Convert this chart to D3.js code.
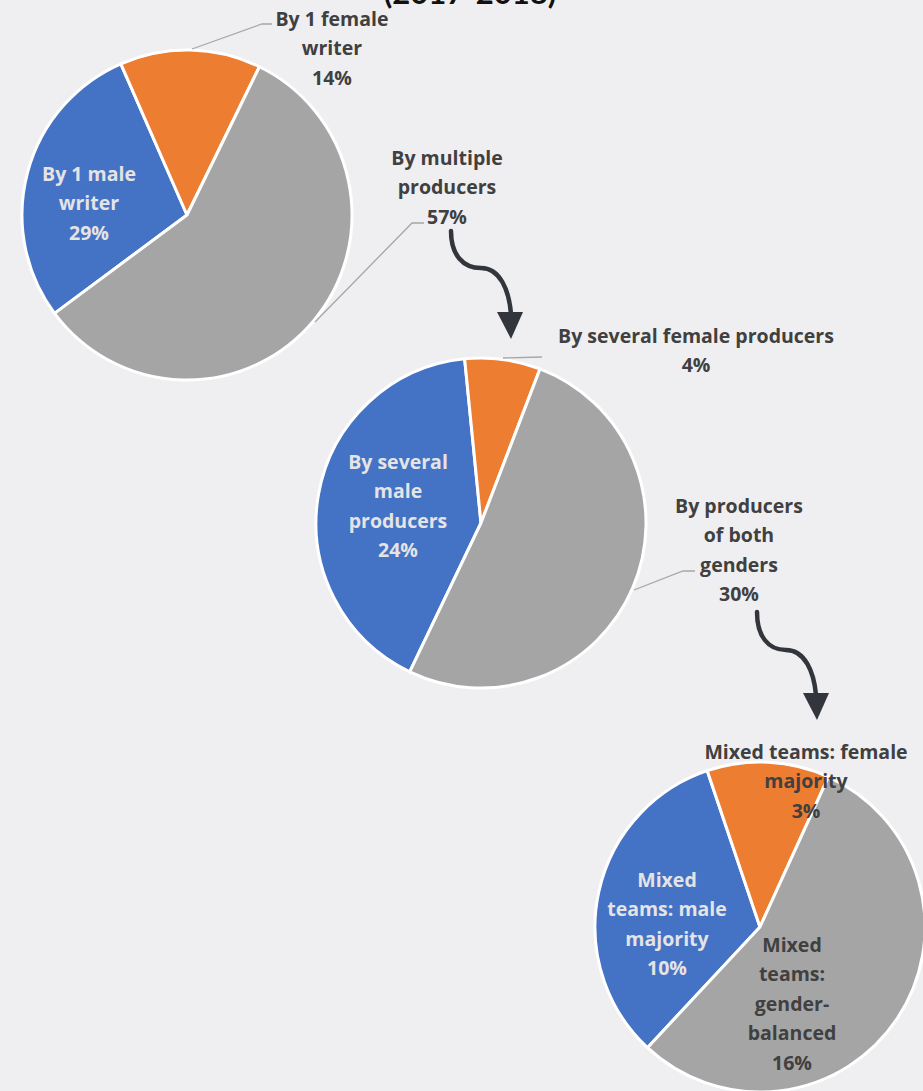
<!DOCTYPE html>
<html><head><meta charset="utf-8">
<script src="https://cdn.jsdelivr.net/npm/d3@7"></script>
<style>html,body{margin:0;padding:0;background:#EFEFF1;} svg{display:block}</style>
</head><body>
<svg id="c" width="923" height="1091"></svg>
<script>
// ---- data ----
const sliceColors = ["#4472C4", "#ED7D31", "#A5A5A5"];

const pie1Categories = [["By 1 male", "writer"], ["By 1 female", "writer"], ["By multiple", "producers"]];
const pie1Values = [28.6, 13.8, 57.6];
const pie1Pct = ["29%", "14%", "57%"];

const pie2Categories = [["By several", "male", "producers"], ["By several female producers"], ["By producers", "of both", "genders"]];
const pie2Values = [24, 4.3, 29.8];
const pie2Pct = ["24%", "4%", "30%"];

const pie3Categories = [["Mixed", "teams: male", "majority"], ["Mixed teams: female", "majority"], ["Mixed", "teams:", "gender-", "balanced"]];
const pie3Values = [9.6, 3.5, 16.1];
const pie3Pct = ["10%", "3%", "16%"];

const titleText = "(2017-2018)";

// ---- layout ----
const R = 165;
const layout = [
  { cx: 187, cy: 215, start: 233.4,
    labels: [{x: 89, y: 174, light: true}, {x: 332, y: 19}, {x: 447, y: 158}],
    leaders: [null, [[192, 49], [262, 24], [272, 24]], [[315, 322], [412, 223], [424, 223]]] },
  { cx: 481, cy: 523, start: 205.6,
    labels: [{x: 398, y: 462, light: true}, {x: 696, y: 336}, {x: 739, y: 506}],
    leaders: [null, [[503, 358], [542, 357]], [[634, 590], [683, 571], [695, 571]]] },
  { cx: 760, cy: 927, start: 223,
    labels: [{x: 667, y: 880, light: true}, {x: 806, y: 752}, {x: 792, y: 945}],
    leaders: [null, null, null] }
];
const pies = [
  {values: pie1Values, cats: pie1Categories, pct: pie1Pct},
  {values: pie2Values, cats: pie2Categories, pct: pie2Pct},
  {values: pie3Values, cats: pie3Categories, pct: pie3Pct}
];

const svg = d3.select("#c");
const deg = Math.PI / 180;
const arc = d3.arc().innerRadius(0).outerRadius(R);
const font = "'Open Sans', Lato, sans-serif";
const lineH = 29.5;

svg.append("text").attr("x", 470).attr("y", 4).attr("text-anchor", "middle")
  .attr("font-family", "Lato, sans-serif").attr("font-weight", 700).attr("font-size", 31)
  .attr("fill", "#111").text(titleText);

pies.forEach((p, i) => {
  const L = layout[i];
  const pie = d3.pie().sort(null).startAngle(L.start * deg).endAngle((L.start + 360) * deg);
  const g = svg.append("g").attr("transform", `translate(${L.cx},${L.cy})`);
  g.selectAll("path").data(pie(p.values)).join("path")
    .attr("d", arc).attr("fill", (d, j) => sliceColors[j])
    .attr("stroke", "#fff").attr("stroke-width", 3).attr("stroke-linejoin", "round");
});

// leaders
const line = d3.line();
pies.forEach((p, i) => {
  layout[i].leaders.forEach(pts => {
    if (!pts) return;
    svg.append("path").attr("d", line(pts)).attr("fill", "none")
      .attr("stroke", "#A6A6A6").attr("stroke-width", 1.3);
  });
});

// labels
pies.forEach((p, i) => {
  const L = layout[i];
  p.cats.forEach((lines, j) => {
    const pos = L.labels[j];
    const all = lines.concat([p.pct[j]]);
    const t = svg.append("text").attr("text-anchor", "middle")
      .attr("font-family", font).attr("font-weight", 700).attr("font-size", 19.5)
      .attr("fill", pos.light ? "#E4E4E4" : "#404040");
    all.forEach((s, k) => {
      t.append("tspan").attr("x", pos.x).attr("y", pos.y + k * lineH).attr("dy", "0.35em").text(s);
    });
  });
});

// arrows
const arrows = [
  {path: "M451,231 C451,255 463,268 481,268 C500,268 509,290 511,314", head: [[497, 312], [523, 312], [511, 339]]},
  {path: "M757,612 C757,636 768,650 786,650 C805,650 814,672 816,695", head: [[803, 693], [829, 693], [817, 720]]}
];
arrows.forEach(a => {
  svg.append("path").attr("d", a.path).attr("fill", "none").attr("stroke", "#33353C")
    .attr("stroke-width", 4.5).attr("stroke-linecap", "round");
  svg.append("polygon").attr("points", a.head.map(q => q.join(",")).join(" ")).attr("fill", "#33353C");
});
</script>
</body></html>
